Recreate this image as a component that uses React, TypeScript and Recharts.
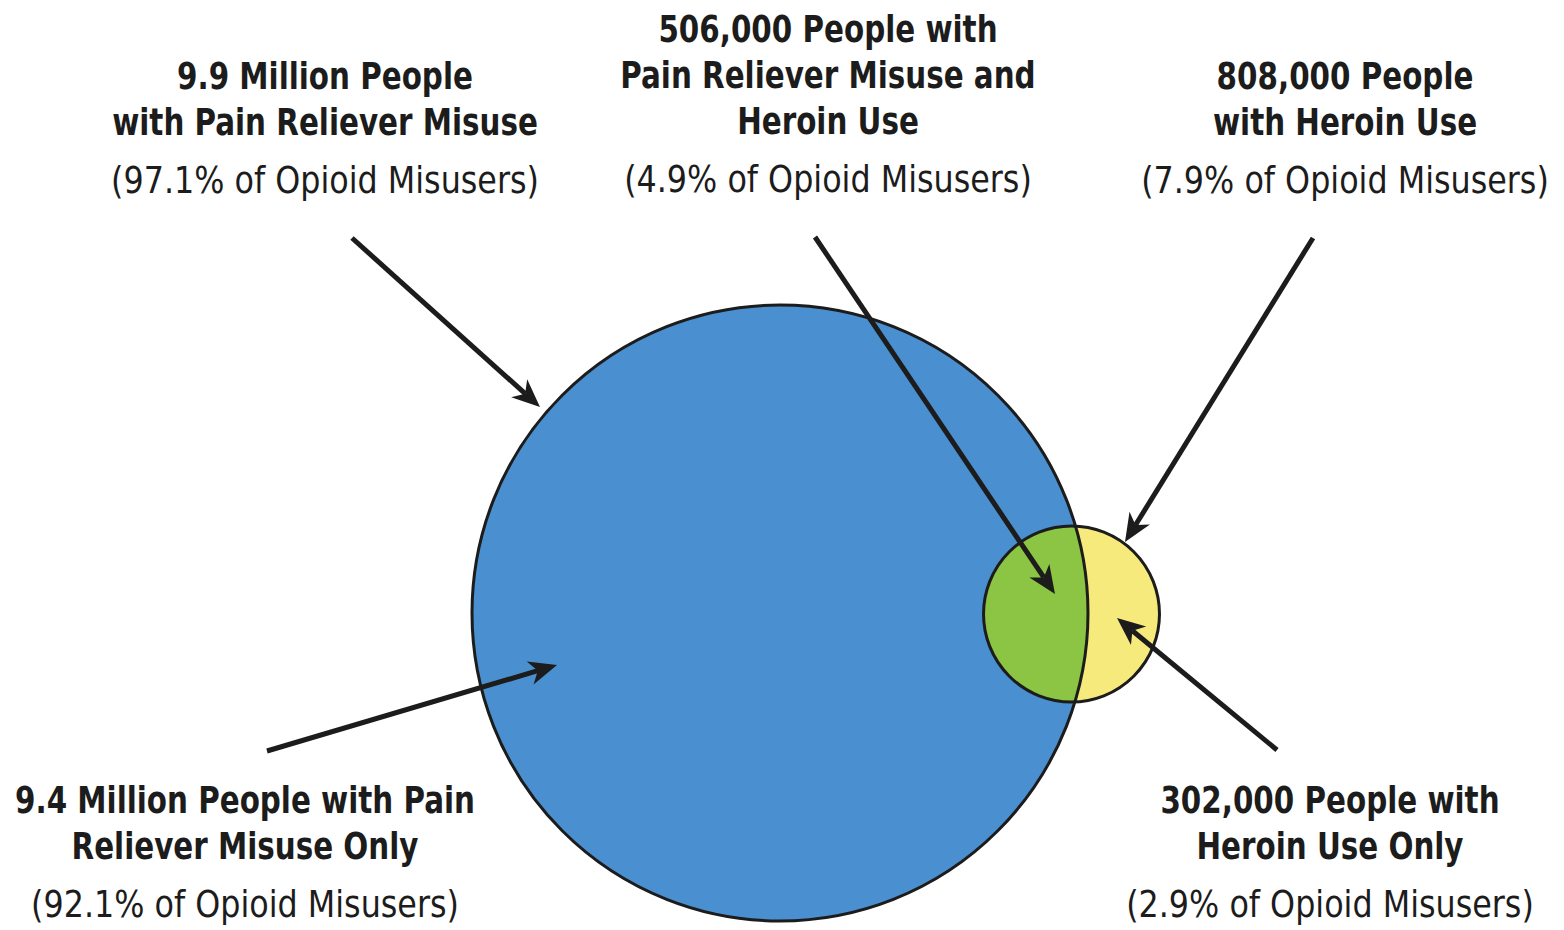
import React from "react";
import { ScatterChart, Scatter, XAxis, YAxis } from "recharts";

// people, in millions
const setNames = ["Pain Reliever Misuse", "Heroin Use"];
const setValues = [9.9, 0.808];
const setCenters = [
  { x: 780, y: 613 },
  { x: 1071.5, y: 614 },
];

const labelLines = [
  ["9.9 Million People", "with Pain Reliever Misuse", "(97.1% of Opioid Misusers)"],
  ["506,000 People with", "Pain Reliever Misuse and", "Heroin Use", "(4.9% of Opioid Misusers)"],
  ["808,000 People", "with Heroin Use", "(7.9% of Opioid Misusers)"],
  ["9.4 Million People with Pain", "Reliever Misuse Only", "(92.1% of Opioid Misusers)"],
  ["302,000 People with", "Heroin Use Only", "(2.9% of Opioid Misusers)"],
];
const labelAnchors = [
  { x: 325, y: 89 },
  { x: 828, y: 42 },
  { x: 1345, y: 89 },
  { x: 245, y: 813 },
  { x: 1330, y: 813 },
];
// arrow heads and tails
const arrowTips = [
  { x: 540, y: 407 },
  { x: 1055, y: 594 },
  { x: 1125, y: 542 },
  { x: 557, y: 665 },
  { x: 1117, y: 618 },
];
const arrowTails = [
  { x: 352, y: 238 },
  { x: 815, y: 237 },
  { x: 1313, y: 238 },
  { x: 267, y: 751 },
  { x: 1277, y: 750 },
];

const W = 1564;
const H = 930;
const K = 308 / Math.sqrt(9.9); // px per sqrt(million)
const FONT = "'Liberation Sans Narrow', 'DejaVu Sans Condensed', 'Arial Narrow', sans-serif";
const INK = "#1c1c1c";

const circles = setNames.map((name, i) => ({
  name,
  value: setValues[i],
  x: setCenters[i].x,
  y: setCenters[i].y,
}));
const labels = labelLines.map((lines, i) => ({ lines, ...labelAnchors[i] }));
const arrows = arrowTips.map((t, i) => ({ ...t, fx: arrowTails[i].x, fy: arrowTails[i].y }));

const rad = (v: number) => K * Math.sqrt(v);

const BigFill = (p: any) => {
  const r = rad(p.payload.value);
  return (
    <g>
      <defs>
        <clipPath id="bigClip">
          <circle cx={p.cx} cy={p.cy} r={r} />
        </clipPath>
      </defs>
      <circle cx={p.cx} cy={p.cy} r={r} fill="#4a8fcf" />
    </g>
  );
};

const SmallFill = (p: any) => {
  const r = rad(p.payload.value);
  return (
    <g>
      <circle cx={p.cx} cy={p.cy} r={r} fill="#f7ea7c" />
      <circle cx={p.cx} cy={p.cy} r={r} fill="#8cc443" clipPath="url(#bigClip)" />
    </g>
  );
};

const Outline = (p: any) => (
  <circle cx={p.cx} cy={p.cy} r={rad(p.payload.value)} fill="none" stroke={INK} strokeWidth={3} />
);

const LabelShape = (p: any) => {
  const lines: string[] = p.payload.lines;
  let y = p.cy;
  return (
    <g fontFamily={FONT} fontSize={38} fill={INK}>
      {lines.map((t, i) => {
        const last = i === lines.length - 1;
        if (i > 0) y += last ? 58 : 46;
        return (
          <text
            key={i}
            textAnchor="middle"
            fontWeight={last ? 400 : 700}
            transform={`translate(${p.cx},${y}) scale(${last ? 0.93 : 0.86},1)`}
          >
            {t}
          </text>
        );
      })}
    </g>
  );
};

// y axis is not reversed in pixel terms: domain [0,H] reversed -> 1 unit = 1 px
const Arrow = (p: any) => {
  const x2 = p.cx;
  const y2 = p.cy;
  const x1 = x2 + (p.payload.fx - p.payload.x);
  const y1 = y2 + (p.payload.fy - p.payload.y);
  const dx = x2 - x1;
  const dy = y2 - y1;
  const len = Math.sqrt(dx * dx + dy * dy);
  const ux = dx / len;
  const uy = dy / len;
  const nx = -uy;
  const ny = ux;
  const L = 28;
  const Wd = 12;
  const bx = x2 - ux * L;
  const by = y2 - uy * L;
  const mx = x2 - ux * (L - 8);
  const my = y2 - uy * (L - 8);
  const pts = [
    [x2, y2],
    [bx + nx * Wd, by + ny * Wd],
    [mx, my],
    [bx - nx * Wd, by - ny * Wd],
  ]
    .map((q) => q.join(","))
    .join(" ");
  return (
    <g>
      <line x1={x1} y1={y1} x2={mx} y2={my} stroke={INK} strokeWidth={5} />
      <polygon points={pts} fill={INK} />
    </g>
  );
};

export default function App() {
  return (
    <div style={{ position: "absolute", left: 0, top: 0, background: "#fff" }}>
      <ScatterChart width={W} height={H} margin={{ top: 0, right: 0, bottom: 0, left: 0 }}>
        <XAxis type="number" dataKey="x" domain={[0, W]} hide />
        <YAxis type="number" dataKey="y" domain={[0, H]} reversed hide />
        <Scatter data={circles.slice(0, 1)} shape={BigFill} isAnimationActive={false} />
        <Scatter data={circles.slice(1)} shape={SmallFill} isAnimationActive={false} />
        <Scatter data={circles} shape={Outline} isAnimationActive={false} />
        <Scatter data={arrows} shape={Arrow} isAnimationActive={false} />
        <Scatter data={labels} shape={LabelShape} isAnimationActive={false} />
      </ScatterChart>
    </div>
  );
}
